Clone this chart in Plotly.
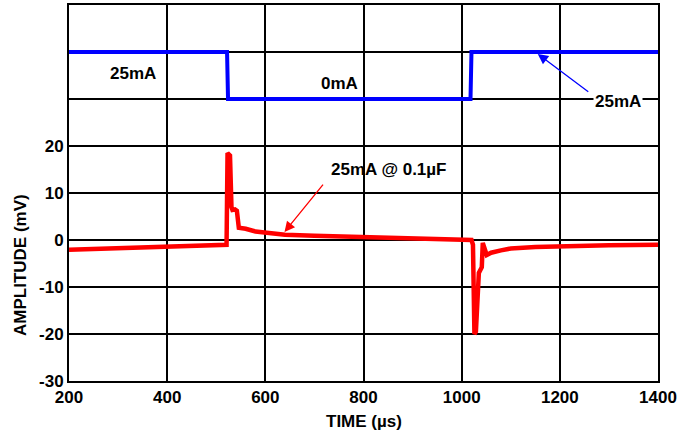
import plotly.graph_objects as go

# Data
blue_x = [200, 522, 524, 1018, 1020, 1405]
blue_y = [40, 40, 30, 30, 40, 40]

red_x = [200, 300, 400, 500, 518, 521, 523, 528, 531, 533, 538, 542, 546, 560, 580, 600, 640,
         700, 800, 900, 1000, 1020, 1023, 1026, 1029, 1035, 1041, 1043, 1051, 1060, 1080,
         1100, 1150, 1200, 1300, 1400]
red_y = [-2.1, -1.8, -1.5, -1.2, -1.1, -1.0, 18.5, 18.0, 7.0, 6.4, 6.5, 6.2, 2.6, 2.4, 1.8, 1.5, 1.1,
         0.9, 0.6, 0.3, 0.1, 0.0, -1.0, -20.0, -19.5, -7.0, -5.8, -0.6, -3.2, -2.7, -2.2,
         -1.8, -1.5, -1.3, -1.1, -1.0]

x_ticks = [200, 400, 600, 800, 1000, 1200, 1400]
y_ticks = [-30, -20, -10, 0, 10, 20]

FONT = "Liberation Sans, Arial, sans-serif"

fig = go.Figure()
fig.add_trace(go.Scatter(x=blue_x, y=blue_y, mode="lines",
                         line=dict(color="#0000ff", width=4), cliponaxis=False,
                         hoverinfo="skip", showlegend=False))
fig.add_trace(go.Scatter(x=red_x, y=red_y, mode="lines",
                         line=dict(color="#ff0000", width=4.5), cliponaxis=False,
                         hoverinfo="skip", showlegend=False))

bold = dict(family=FONT, size=17, color="black")

fig.update_layout(
    width=687, height=436,
    margin=dict(l=69, r=29, t=5, b=55),
    paper_bgcolor="white", plot_bgcolor="white",
    showlegend=False,
    font=bold,
    xaxis=dict(range=[200, 1400], tickvals=x_ticks,
               ticktext=[f"<b>{v}</b>" for v in x_ticks],
               showgrid=True, gridcolor="black", gridwidth=2,
               zeroline=False, showline=True, linecolor="black", linewidth=2,
               mirror=True, ticks="", tickfont=bold, automargin=False),
    yaxis=dict(range=[-30, 50], tickvals=[-30, -20, -10, 0, 10, 20, 30, 40, 50],
               ticktext=[f"<b>{v}</b>" for v in y_ticks] + ["", "", ""],
               showgrid=True, gridcolor="black", gridwidth=2,
               zeroline=False, showline=True, linecolor="black", linewidth=2,
               mirror=True, ticks="", tickfont=bold, automargin=False),
)

anns = [
    dict(x=331, y=35.5, text="<b>25mA</b>", showarrow=False),
    dict(x=751, y=33.2, text="<b>0mA</b>", showarrow=False),
    dict(x=1318, y=29.4, text="<b>25mA</b>", showarrow=False, bgcolor="white", borderpad=1),
    dict(x=851, y=14.9, text="<b>25mA @ 0.1µF</b>", showarrow=False),
]
for a in anns:
    a.update(xref="x", yref="y", font=bold)
    fig.add_annotation(**a)

# arrows
fig.add_annotation(x=1155, y=39.6, ax=1261, ay=31.3, xref="x", yref="y", axref="x", ayref="y",
                   text="", showarrow=True, arrowhead=2, arrowsize=1.6, arrowwidth=1.3,
                   arrowcolor="#0000ff")
fig.add_annotation(x=639, y=1.7, ax=720, ay=12.1, xref="x", yref="y", axref="x", ayref="y",
                   text="", showarrow=True, arrowhead=2, arrowsize=1.6, arrowwidth=1.3,
                   arrowcolor="#ff0000")

# axis titles
fig.add_annotation(x=0.5, y=-0.109, xref="paper", yref="paper", text="<b>TIME (µs)</b>",
                   showarrow=False, font=bold, yanchor="middle")
fig.add_annotation(x=-0.0832, y=0.3085, xref="paper", yref="paper", text="<b>AMPLITUDE (mV)</b>",
                   showarrow=False, font=bold, textangle=-90, xanchor="center", yanchor="middle")

fig.write_html("out.html", config={"displayModeBar": False},
               post_script="document.body.style.margin='0';document.body.style.padding='0';")
